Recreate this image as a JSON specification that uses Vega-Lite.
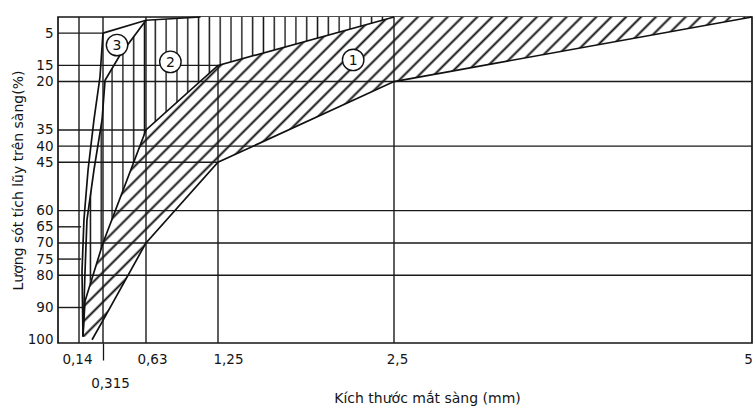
{
  "$schema": "https://vega.github.io/schema/vega-lite/v6.json",
  "width": 694,
  "height": 326,
  "autosize": "none",
  "padding": {"left": 58, "top": 17, "right": 1, "bottom": 67},
  "background": "white",
  "config": {
    "view": {"stroke": "#151515", "strokeWidth": 1.7},
    "font": "DejaVu Sans",
    "axis": {
      "labelFont": "DejaVu Sans",
      "titleFont": "DejaVu Sans",
      "labelColor": "#151515",
      "titleColor": "#151515",
      "titleFontWeight": "normal",
      "labelFontSize": 13.5,
      "titleFontSize": 14
    }
  },
  "datasets": {
    "zones": [
      {"zone": 1, "i": 1, "mm": 5, "pct": 0},
      {"zone": 1, "i": 2, "mm": 2.5, "pct": 0},
      {"zone": 1, "i": 3, "mm": 1.25, "pct": 15},
      {"zone": 1, "i": 4, "mm": 0.63, "pct": 35},
      {"zone": 1, "i": 5, "mm": 0.315, "pct": 70},
      {"zone": 1, "i": 6, "mm": 0.184, "pct": 88},
      {"zone": 1, "i": 7, "mm": 0.169, "pct": 99},
      {"zone": 1, "i": 8, "mm": 0.235, "pct": 100},
      {"zone": 1, "i": 9, "mm": 0.315, "pct": 94},
      {"zone": 1, "i": 10, "mm": 0.63, "pct": 70},
      {"zone": 1, "i": 11, "mm": 1.25, "pct": 45},
      {"zone": 1, "i": 12, "mm": 2.5, "pct": 20},
      {"zone": 2, "i": 1, "mm": 0.63, "pct": 1},
      {"zone": 2, "i": 2, "mm": 1.1, "pct": 0},
      {"zone": 2, "i": 3, "mm": 2.5, "pct": 0},
      {"zone": 2, "i": 4, "mm": 1.25, "pct": 15},
      {"zone": 2, "i": 5, "mm": 0.63, "pct": 35},
      {"zone": 2, "i": 6, "mm": 0.315, "pct": 70},
      {"zone": 2, "i": 7, "mm": 0.184, "pct": 87},
      {"zone": 2, "i": 8, "mm": 0.184, "pct": 78.7},
      {"zone": 2, "i": 9, "mm": 0.198, "pct": 62.9},
      {"zone": 2, "i": 10, "mm": 0.249, "pct": 47.4},
      {"zone": 2, "i": 11, "mm": 0.308, "pct": 31.9},
      {"zone": 2, "i": 12, "mm": 0.33, "pct": 19.6},
      {"zone": 2, "i": 13, "mm": 0.44, "pct": 11.8}
    ],
    "curves": [
      {"curve": "A", "i": 1, "mm": 2.5, "pct": 0},
      {"curve": "A", "i": 2, "mm": 1.25, "pct": 15},
      {"curve": "A", "i": 3, "mm": 0.63, "pct": 35},
      {"curve": "A", "i": 4, "mm": 0.315, "pct": 70},
      {"curve": "A", "i": 5, "mm": 0.184, "pct": 88},
      {"curve": "A", "i": 6, "mm": 0.169, "pct": 99},
      {"curve": "B", "i": 1, "mm": 5, "pct": 0},
      {"curve": "B", "i": 2, "mm": 2.5, "pct": 20},
      {"curve": "B", "i": 3, "mm": 1.25, "pct": 45},
      {"curve": "B", "i": 4, "mm": 0.63, "pct": 70},
      {"curve": "B", "i": 5, "mm": 0.315, "pct": 94},
      {"curve": "B", "i": 6, "mm": 0.235, "pct": 100},
      {"curve": "T", "i": 1, "mm": 0.315, "pct": 5},
      {"curve": "T", "i": 2, "mm": 0.63, "pct": 1},
      {"curve": "T", "i": 3, "mm": 1.1, "pct": 0},
      {"curve": "R3", "i": 1, "mm": 0.63, "pct": 1},
      {"curve": "R3", "i": 2, "mm": 0.44, "pct": 11.8},
      {"curve": "R3", "i": 3, "mm": 0.33, "pct": 19.6},
      {"curve": "R3", "i": 4, "mm": 0.308, "pct": 31.9},
      {"curve": "R3", "i": 5, "mm": 0.249, "pct": 47.4},
      {"curve": "R3", "i": 6, "mm": 0.198, "pct": 62.9},
      {"curve": "R3", "i": 7, "mm": 0.184, "pct": 78.7},
      {"curve": "R3", "i": 8, "mm": 0.169, "pct": 99},
      {"curve": "L3", "i": 1, "mm": 0.315, "pct": 5},
      {"curve": "L3", "i": 2, "mm": 0.293, "pct": 18.6},
      {"curve": "L3", "i": 3, "mm": 0.249, "pct": 31.9},
      {"curve": "L3", "i": 4, "mm": 0.206, "pct": 47.4},
      {"curve": "L3", "i": 5, "mm": 0.176, "pct": 62.9},
      {"curve": "L3", "i": 6, "mm": 0.162, "pct": 78.7},
      {"curve": "L3", "i": 7, "mm": 0.169, "pct": 99}
    ],
    "hgrid": [
      {"pct": 5, "mm": 0, "mm2": 0.315},
      {"pct": 15, "mm": 0, "mm2": 1.25},
      {"pct": 20, "mm": 0, "mm2": 5},
      {"pct": 35, "mm": 0, "mm2": 0.63},
      {"pct": 40, "mm": 0, "mm2": 5},
      {"pct": 45, "mm": 0, "mm2": 1.25},
      {"pct": 60, "mm": 0, "mm2": 5},
      {"pct": 65, "mm": 0, "mm2": 0.155},
      {"pct": 70, "mm": 0, "mm2": 5},
      {"pct": 75, "mm": 0, "mm2": 0.155},
      {"pct": 80, "mm": 0, "mm2": 5},
      {"pct": 90, "mm": 0, "mm2": 0.169}
    ],
    "vgrid": [
      {"mm": 0.14, "pct": 0, "pct2": 101},
      {"mm": 0.315, "pct": 0, "pct2": 101},
      {"mm": 0.63, "pct": 0, "pct2": 101},
      {"mm": 1.25, "pct": 15, "pct2": 101},
      {"mm": 2.5, "pct": 0, "pct2": 101}
    ],
    "badges": [
      {"n": "1", "mm": 2.21, "pct": 13.3},
      {"n": "2", "mm": 0.84, "pct": 13.9},
      {"n": "3", "mm": 0.418, "pct": 8.7}
    ]
  },
  "encoding": {
    "x": {
      "field": "mm",
      "type": "quantitative",
      "scale": {
        "domain": [0, 0.14, 0.315, 0.63, 1.25, 2.5, 5],
        "range": [0, 21, 45, 88, 160, 336, 694],
        "nice": false,
        "zero": false
      },
      "axis": {
        "values": [0.14, 0.315, 0.63, 1.25, 2.5, 5],
        "title": "Kích thước mắt sàng (mm)",
        "grid": false,
        "domain": false,
        "ticks": true,
        "tickColor": "#151515",
        "tickWidth": 1.3,
        "tickSize": {"condition": {"test": "datum.value === 0.315", "value": 17}, "value": 0},
        "labelExpr": "replace(toString(datum.value), '.', ',')",
        "labelBaseline": "top",
        "labelAlign": "center",
        "labelPadding": {"condition": {"test": "datum.value === 0.315", "value": 16}, "value": 9},
        "labelOffset": {
          "condition": [
            {"test": "datum.value === 0.315", "value": 7},
            {"test": "datum.value === 0.63", "value": 6},
            {"test": "datum.value === 1.25", "value": 10},
            {"test": "datum.value === 2.5", "value": 3},
            {"test": "datum.value === 5", "value": -4}
          ],
          "value": -2
        },
        "labelFlush": false,
        "labelOverlap": false,
        "titleX": 369,
        "titleY": 48,
        "titleAlign": "center",
        "titleBaseline": "top"
      }
    },
    "y": {
      "field": "pct",
      "type": "quantitative",
      "scale": {"domain": [0, 101], "reverse": true, "nice": false, "zero": false},
      "axis": {
        "values": [5, 15, 20, 35, 40, 45, 60, 65, 70, 75, 80, 90, 100],
        "title": "Lượng sót tích lũy trên sàng(%)",
        "grid": false,
        "domain": false,
        "ticks": false,
        "labelPadding": 5,
        "labelBaseline": "middle",
        "labelOverlap": false,
        "labelFlush": false,
        "titleAngle": 270,
        "titleX": -40,
        "titleY": 163,
        "titleAlign": "center",
        "titleBaseline": "middle"
      }
    }
  },
  "layer": [
    {
      "data": {"name": "zones"},
      "transform": [{"filter": "datum.zone === 1"}],
      "mark": {
        "type": "line",
        "interpolate": "linear-closed",
        "strokeOpacity": 0,
        "fill": {
          "gradient": "linear",
          "x1": 0, "y1": 0, "x2": 1.2026, "y2": 0.5802,
          "stops": [
            {"offset": 0.1547, "color": "#fff"}, {"offset": 0.1575, "color": "#111"}, {"offset": 0.1603, "color": "#fff"},
            {"offset": 0.1697, "color": "#fff"}, {"offset": 0.1725, "color": "#111"}, {"offset": 0.1753, "color": "#fff"},
            {"offset": 0.1847, "color": "#fff"}, {"offset": 0.1875, "color": "#111"}, {"offset": 0.1903, "color": "#fff"},
            {"offset": 0.1997, "color": "#fff"}, {"offset": 0.2025, "color": "#111"}, {"offset": 0.2053, "color": "#fff"},
            {"offset": 0.2147, "color": "#fff"}, {"offset": 0.2175, "color": "#111"}, {"offset": 0.2203, "color": "#fff"},
            {"offset": 0.2297, "color": "#fff"}, {"offset": 0.2325, "color": "#111"}, {"offset": 0.2353, "color": "#fff"},
            {"offset": 0.2447, "color": "#fff"}, {"offset": 0.2475, "color": "#111"}, {"offset": 0.2503, "color": "#fff"},
            {"offset": 0.2597, "color": "#fff"}, {"offset": 0.2625, "color": "#111"}, {"offset": 0.2653, "color": "#fff"},
            {"offset": 0.2747, "color": "#fff"}, {"offset": 0.2775, "color": "#111"}, {"offset": 0.2803, "color": "#fff"},
            {"offset": 0.2897, "color": "#fff"}, {"offset": 0.2925, "color": "#111"}, {"offset": 0.2953, "color": "#fff"},
            {"offset": 0.3047, "color": "#fff"}, {"offset": 0.3075, "color": "#111"}, {"offset": 0.3103, "color": "#fff"},
            {"offset": 0.3197, "color": "#fff"}, {"offset": 0.3225, "color": "#111"}, {"offset": 0.3253, "color": "#fff"},
            {"offset": 0.3347, "color": "#fff"}, {"offset": 0.3375, "color": "#111"}, {"offset": 0.3403, "color": "#fff"},
            {"offset": 0.3497, "color": "#fff"}, {"offset": 0.3525, "color": "#111"}, {"offset": 0.3553, "color": "#fff"},
            {"offset": 0.3647, "color": "#fff"}, {"offset": 0.3675, "color": "#111"}, {"offset": 0.3703, "color": "#fff"},
            {"offset": 0.3797, "color": "#fff"}, {"offset": 0.3825, "color": "#111"}, {"offset": 0.3853, "color": "#fff"},
            {"offset": 0.3947, "color": "#fff"}, {"offset": 0.3975, "color": "#111"}, {"offset": 0.4003, "color": "#fff"},
            {"offset": 0.4097, "color": "#fff"}, {"offset": 0.4125, "color": "#111"}, {"offset": 0.4153, "color": "#fff"},
            {"offset": 0.4247, "color": "#fff"}, {"offset": 0.4275, "color": "#111"}, {"offset": 0.4303, "color": "#fff"},
            {"offset": 0.4397, "color": "#fff"}, {"offset": 0.4425, "color": "#111"}, {"offset": 0.4453, "color": "#fff"},
            {"offset": 0.4547, "color": "#fff"}, {"offset": 0.4575, "color": "#111"}, {"offset": 0.4603, "color": "#fff"},
            {"offset": 0.4697, "color": "#fff"}, {"offset": 0.4725, "color": "#111"}, {"offset": 0.4753, "color": "#fff"},
            {"offset": 0.4847, "color": "#fff"}, {"offset": 0.4875, "color": "#111"}, {"offset": 0.4903, "color": "#fff"},
            {"offset": 0.4997, "color": "#fff"}, {"offset": 0.5025, "color": "#111"}, {"offset": 0.5053, "color": "#fff"},
            {"offset": 0.5147, "color": "#fff"}, {"offset": 0.5175, "color": "#111"}, {"offset": 0.5203, "color": "#fff"},
            {"offset": 0.5297, "color": "#fff"}, {"offset": 0.5325, "color": "#111"}, {"offset": 0.5353, "color": "#fff"},
            {"offset": 0.5447, "color": "#fff"}, {"offset": 0.5475, "color": "#111"}, {"offset": 0.5503, "color": "#fff"},
            {"offset": 0.5597, "color": "#fff"}, {"offset": 0.5625, "color": "#111"}, {"offset": 0.5653, "color": "#fff"},
            {"offset": 0.5747, "color": "#fff"}, {"offset": 0.5775, "color": "#111"}, {"offset": 0.5803, "color": "#fff"},
            {"offset": 0.5897, "color": "#fff"}, {"offset": 0.5925, "color": "#111"}, {"offset": 0.5953, "color": "#fff"},
            {"offset": 0.6047, "color": "#fff"}, {"offset": 0.6075, "color": "#111"}, {"offset": 0.6103, "color": "#fff"},
            {"offset": 0.6197, "color": "#fff"}, {"offset": 0.6225, "color": "#111"}, {"offset": 0.6253, "color": "#fff"},
            {"offset": 0.6347, "color": "#fff"}, {"offset": 0.6375, "color": "#111"}, {"offset": 0.6403, "color": "#fff"},
            {"offset": 0.6497, "color": "#fff"}, {"offset": 0.6525, "color": "#111"}, {"offset": 0.6553, "color": "#fff"},
            {"offset": 0.6647, "color": "#fff"}, {"offset": 0.6675, "color": "#111"}, {"offset": 0.6703, "color": "#fff"},
            {"offset": 0.6797, "color": "#fff"}, {"offset": 0.6825, "color": "#111"}, {"offset": 0.6853, "color": "#fff"}
          ]
        }
      },
      "encoding": {"order": {"field": "i", "type": "quantitative"}}
    },
    {
      "data": {"name": "zones"},
      "transform": [{"filter": "datum.zone === 2"}],
      "mark": {
        "type": "line",
        "interpolate": "linear-closed",
        "strokeOpacity": 0,
        "fill": {
          "gradient": "linear",
          "x1": 0, "y1": 0, "x2": 1, "y2": 0,
          "stops": [
            {"offset": 0.013, "color": "#fff"}, {"offset": 0.0175, "color": "#111"}, {"offset": 0.022, "color": "#fff"},
            {"offset": 0.048, "color": "#fff"}, {"offset": 0.0525, "color": "#111"}, {"offset": 0.057, "color": "#fff"},
            {"offset": 0.083, "color": "#fff"}, {"offset": 0.0875, "color": "#111"}, {"offset": 0.092, "color": "#fff"},
            {"offset": 0.118, "color": "#fff"}, {"offset": 0.1225, "color": "#111"}, {"offset": 0.127, "color": "#fff"},
            {"offset": 0.153, "color": "#fff"}, {"offset": 0.1575, "color": "#111"}, {"offset": 0.162, "color": "#fff"},
            {"offset": 0.188, "color": "#fff"}, {"offset": 0.1925, "color": "#111"}, {"offset": 0.197, "color": "#fff"},
            {"offset": 0.223, "color": "#fff"}, {"offset": 0.2275, "color": "#111"}, {"offset": 0.232, "color": "#fff"},
            {"offset": 0.258, "color": "#fff"}, {"offset": 0.2625, "color": "#111"}, {"offset": 0.267, "color": "#fff"},
            {"offset": 0.293, "color": "#fff"}, {"offset": 0.2975, "color": "#111"}, {"offset": 0.302, "color": "#fff"},
            {"offset": 0.328, "color": "#fff"}, {"offset": 0.3325, "color": "#111"}, {"offset": 0.337, "color": "#fff"},
            {"offset": 0.363, "color": "#fff"}, {"offset": 0.3675, "color": "#111"}, {"offset": 0.372, "color": "#fff"},
            {"offset": 0.398, "color": "#fff"}, {"offset": 0.4025, "color": "#111"}, {"offset": 0.407, "color": "#fff"},
            {"offset": 0.433, "color": "#fff"}, {"offset": 0.4375, "color": "#111"}, {"offset": 0.442, "color": "#fff"},
            {"offset": 0.468, "color": "#fff"}, {"offset": 0.4725, "color": "#111"}, {"offset": 0.477, "color": "#fff"},
            {"offset": 0.503, "color": "#fff"}, {"offset": 0.5075, "color": "#111"}, {"offset": 0.512, "color": "#fff"},
            {"offset": 0.538, "color": "#fff"}, {"offset": 0.5425, "color": "#111"}, {"offset": 0.547, "color": "#fff"},
            {"offset": 0.573, "color": "#fff"}, {"offset": 0.5775, "color": "#111"}, {"offset": 0.582, "color": "#fff"},
            {"offset": 0.608, "color": "#fff"}, {"offset": 0.6125, "color": "#111"}, {"offset": 0.617, "color": "#fff"},
            {"offset": 0.643, "color": "#fff"}, {"offset": 0.6475, "color": "#111"}, {"offset": 0.652, "color": "#fff"},
            {"offset": 0.678, "color": "#fff"}, {"offset": 0.6825, "color": "#111"}, {"offset": 0.687, "color": "#fff"},
            {"offset": 0.713, "color": "#fff"}, {"offset": 0.7175, "color": "#111"}, {"offset": 0.722, "color": "#fff"},
            {"offset": 0.748, "color": "#fff"}, {"offset": 0.7525, "color": "#111"}, {"offset": 0.757, "color": "#fff"},
            {"offset": 0.783, "color": "#fff"}, {"offset": 0.7875, "color": "#111"}, {"offset": 0.792, "color": "#fff"},
            {"offset": 0.818, "color": "#fff"}, {"offset": 0.8225, "color": "#111"}, {"offset": 0.827, "color": "#fff"},
            {"offset": 0.853, "color": "#fff"}, {"offset": 0.8575, "color": "#111"}, {"offset": 0.862, "color": "#fff"},
            {"offset": 0.888, "color": "#fff"}, {"offset": 0.8925, "color": "#111"}, {"offset": 0.897, "color": "#fff"},
            {"offset": 0.923, "color": "#fff"}, {"offset": 0.9275, "color": "#111"}, {"offset": 0.932, "color": "#fff"},
            {"offset": 0.958, "color": "#fff"}, {"offset": 0.9625, "color": "#111"}, {"offset": 0.967, "color": "#fff"}
          ]
        }
      },
      "encoding": {"order": {"field": "i", "type": "quantitative"}}
    },
    {
      "data": {"name": "hgrid"},
      "mark": {"type": "rule", "color": "#1a1a1a", "strokeWidth": 1.4},
      "encoding": {"x2": {"field": "mm2"}}
    },
    {
      "data": {"name": "vgrid"},
      "mark": {"type": "rule", "color": "#1a1a1a", "strokeWidth": 1.4},
      "encoding": {"y2": {"field": "pct2"}}
    },
    {
      "data": {"name": "curves"},
      "mark": {"type": "line", "color": "#111", "strokeWidth": 1.7},
      "encoding": {
        "detail": {"field": "curve", "type": "nominal"},
        "order": {"field": "i", "type": "quantitative"}
      }
    },
    {
      "data": {"name": "badges"},
      "mark": {"type": "point", "shape": "circle", "size": 460, "filled": true, "fill": "white", "stroke": "#111", "strokeWidth": 1.4, "opacity": 1},
      "encoding": {}
    },
    {
      "data": {"name": "badges"},
      "mark": {"type": "text", "font": "DejaVu Sans", "fontSize": 14, "color": "#111", "align": "center", "baseline": "middle", "dy": 1},
      "encoding": {"text": {"field": "n"}}
    }
  ]
}
